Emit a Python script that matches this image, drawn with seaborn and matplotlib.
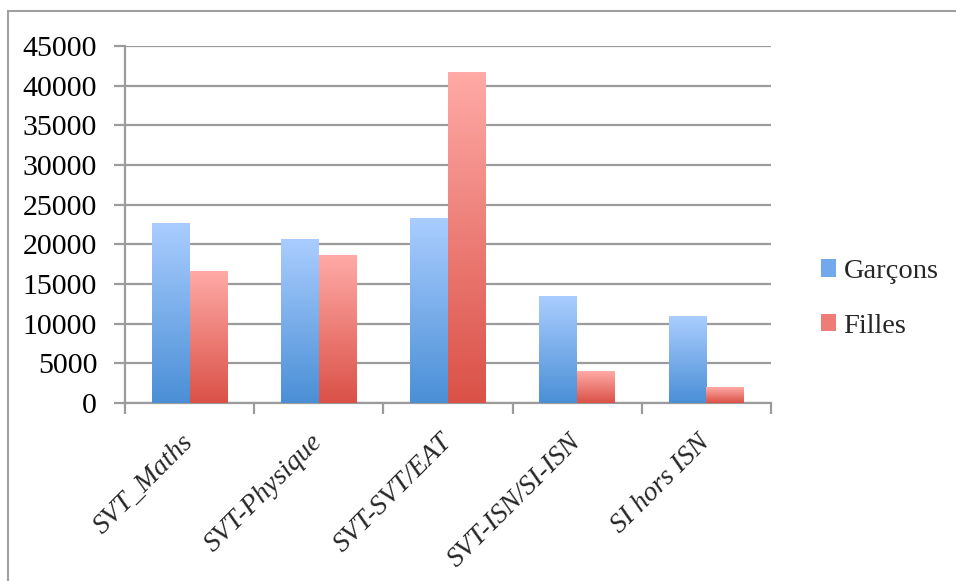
import numpy as np
import pandas as pd
import matplotlib
matplotlib.use("Agg")
import matplotlib.pyplot as plt
import seaborn as sns
from matplotlib.colors import LinearSegmentedColormap
from matplotlib.patches import Rectangle, Patch

# ============================================
# Data
# ============================================

filieres = ["SVT_Maths", "SVT-Physique", "SVT-SVT/EAT", "SVT-ISN/SI-ISN", "SI hors ISN"]
garcons = [22600, 20600, 23300, 13400, 10950]
filles = [16600, 18600, 41600, 4000, 1900]
series = ["Garçons", "Filles"]

df = pd.DataFrame({
    "filiere": filieres * 2,
    "effectif": garcons + filles,
    "sexe": [series[0]] * len(filieres) + [series[1]] * len(filieres),
})

# gradient colours (bottom, top)
grad = {
    "Garçons": ("#4a8fd6", "#aacdff"),
    "Filles": ("#da5147", "#ffaaa6"),
}
legend_col = {"Garçons": "#72a9ec", "Filles": "#ee7d77"}
grid_col = "#9b9b9b"

# ============================================
# Plot
# ============================================

sns.set_style("white")
plt.rcParams["font.family"] = ["Liberation Serif", "DejaVu Serif"]

fig = plt.figure(figsize=(9.56, 5.81), dpi=100)
ax = fig.add_axes([125 / 956, 1 - 403 / 581, (771 - 125) / 956, (403 - 46) / 581])

sns.barplot(
    data=df, x="filiere", y="effectif", hue="sexe",
    palette=[grad[s][1] for s in series], saturation=1,
    width=0.585, ax=ax, legend=False,
)

# replace flat fill with vertical gradient per bar
for cont, s in zip(ax.containers, series):
    cmap = LinearSegmentedColormap.from_list(s, list(grad[s]))
    for bar in cont:
        x0, y0 = bar.get_x(), bar.get_y()
        w, h = bar.get_width(), bar.get_height()
        ax.imshow(np.linspace(0, 1, 256).reshape(-1, 1), cmap=cmap,
                  extent=[x0, x0 + w, y0, y0 + h], origin="lower",
                  aspect="auto", zorder=3)
        bar.set_facecolor("none")
        bar.set_edgecolor("none")

ax.set_xlim(-0.5, 4.5)
ax.set_ylim(0, 45000)
ax.set_yticks(np.arange(0, 45001, 5000))
ax.yaxis.grid(True, color=grid_col, lw=1.6)
ax.set_axisbelow(True)
ax.set_xlabel("")
ax.set_ylabel("")

for side in ["top", "right"]:
    ax.spines[side].set_visible(False)
for side in ["left", "bottom"]:
    ax.spines[side].set_color(grid_col)
    ax.spines[side].set_linewidth(1.6)

ax.tick_params(axis="y", left=True, length=8, width=1.6, color=grid_col,
               labelsize=21.5, pad=12, labelcolor="black")
ax.set_xticks(np.arange(-0.5, 4.6, 1), minor=True)
ax.tick_params(axis="x", which="minor", bottom=True, length=8, width=1.6,
               color=grid_col, direction="out")
ax.tick_params(axis="x", which="major", bottom=False, pad=22)
ax.set_xticks(range(len(filieres)))
ax.set_xticklabels(filieres, rotation=45, ha="right", rotation_mode="anchor",
                   fontsize=20, style="italic", va="center")

handles = [Patch(facecolor=legend_col[s], edgecolor="none") for s in series]
fig.legend(handles, series, loc="center left", bbox_to_anchor=(795 / 956, 1 - 299 / 581),
           frameon=False, fontsize=20.5, handlelength=0.55, handleheight=0.55,
           handletextpad=0.25, labelspacing=1.05)

# outer chart frame
fig.patches.append(Rectangle((8 / 956, -0.1), 2, 1.1 - 11 / 581,
                             transform=fig.transFigure, fill=False,
                             edgecolor="#a0a0a0", lw=1.5))

plt.savefig("out.png", dpi=100)
plt.close()
